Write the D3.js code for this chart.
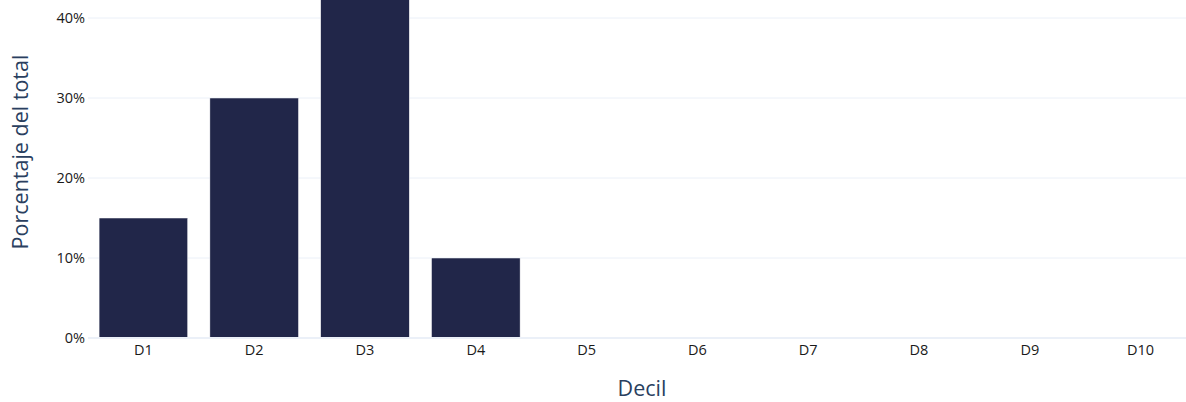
<!DOCTYPE html>
<html>
<head>
<meta charset="utf-8">
<script src="https://cdn.jsdelivr.net/npm/d3@7"></script>
<style>
  html, body { margin: 0; padding: 0; background: #fff; overflow: hidden; }
  svg { display: block; font-family: "Open Sans", "DejaVu Sans", sans-serif; }
</style>
</head>
<body>
<svg id="chart" width="1186" height="402"></svg>
<script>
// Share of total by income decile
const deciles = ["D1", "D2", "D3", "D4", "D5", "D6", "D7", "D8", "D9", "D10"];
const shares = [15, 30, 45, 10, 0, 0, 0, 0, 0, 0];
const yTicks = [0, 10, 20, 30, 40];
const xTitle = "Decil";
const yTitle = "Porcentaje del total";

const svg = d3.select("#chart");
const plot = { left: 88, right: 1196, top: -2, bottom: 338 };

const x = d3.scaleBand()
  .domain(deciles)
  .range([plot.left, plot.right])
  .paddingInner(0.2)
  .paddingOuter(0.1);

const y = d3.scaleLinear()
  .domain([0, 42.5])
  .range([plot.bottom, plot.bottom - 42.5 * 8]);

svg.append("defs").append("clipPath").attr("id", "plotClip")
  .append("rect")
  .attr("x", plot.left).attr("y", 0)
  .attr("width", plot.right - plot.left).attr("height", plot.bottom);

// gridlines
svg.append("g")
  .selectAll("line")
  .data(yTicks.filter(d => d !== 0))
  .join("line")
  .attr("x1", plot.left).attr("x2", plot.right)
  .attr("y1", d => y(d)).attr("y2", d => y(d))
  .attr("stroke", "#EBF0F8").attr("stroke-width", 1);

// bars
svg.append("g")
  .attr("clip-path", "url(#plotClip)")
  .selectAll("rect")
  .data(deciles.map((d, i) => ({ d, v: shares[i] })))
  .join("rect")
  .attr("x", r => x(r.d))
  .attr("width", x.bandwidth())
  .attr("y", r => y(r.v))
  .attr("height", r => y(0) - y(r.v))
  .attr("fill", "#212649")
  .attr("stroke", "#ffffff")
  .attr("stroke-width", 0.5);

// zero line
svg.append("line")
  .attr("x1", plot.left).attr("x2", plot.right)
  .attr("y1", y(0)).attr("y2", y(0))
  .attr("stroke", "#EBF0F8").attr("stroke-width", 2);

// y axis labels
const yAxis = d3.axisLeft(y)
  .tickValues(yTicks)
  .tickFormat(d => d + "%")
  .tickSize(0)
  .tickPadding(2);
const gy = svg.append("g")
  .attr("transform", `translate(${plot.left - 1},0)`)
  .call(yAxis);
gy.select(".domain").remove();
gy.selectAll("text")
  .attr("font-family", "'Open Sans', sans-serif")
  .attr("font-size", 14.5)
  .attr("fill", "#1a1a1a");

// x axis labels
const xAxis = d3.axisBottom(x).tickSize(0).tickPadding(7);
const gx = svg.append("g")
  .attr("transform", `translate(0,${plot.bottom})`)
  .call(xAxis);
gx.select(".domain").remove();
gx.selectAll("text")
  .attr("font-family", "'Open Sans', sans-serif")
  .attr("font-size", 14.5)
  .attr("fill", "#1a1a1a");

// axis titles
svg.append("text")
  .attr("x", (plot.left + plot.right) / 2)
  .attr("y", 396)
  .attr("text-anchor", "middle")
  .attr("font-size", 21.5)
  .attr("fill", "#2a3f5f")
  .text(xTitle);

svg.append("text")
  .attr("transform", `translate(28,152) rotate(-90)`)
  .attr("text-anchor", "middle")
  .attr("font-size", 21.5)
  .attr("fill", "#2a3f5f")
  .text(yTitle);
</script>
</body>
</html>
